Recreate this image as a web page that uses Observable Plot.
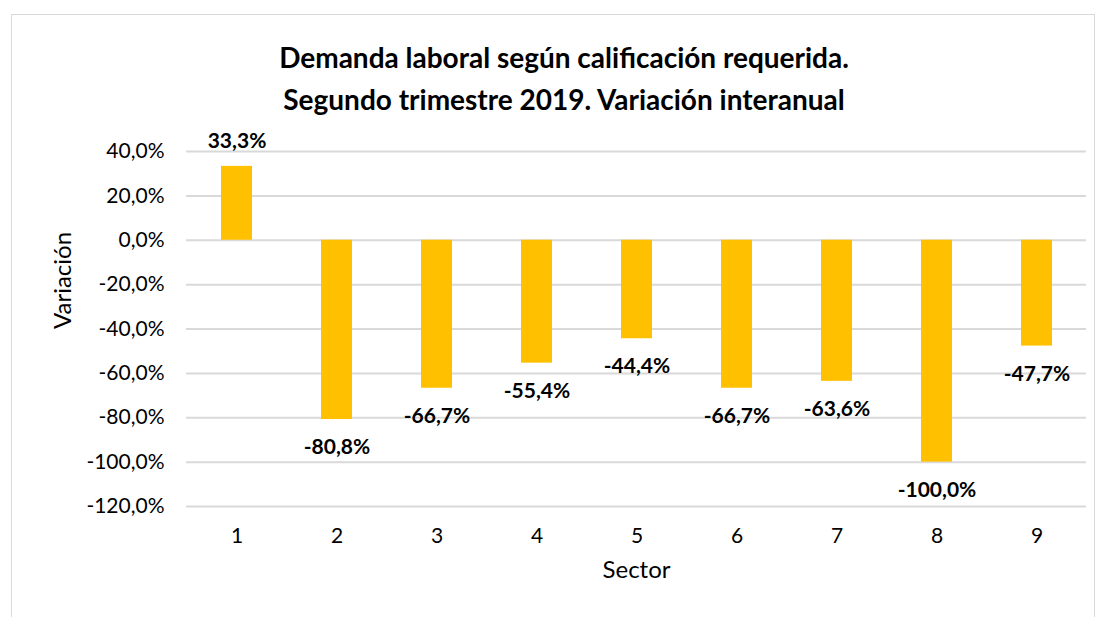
<!DOCTYPE html>
<html>
<head>
<meta charset="utf-8">
<script src="https://cdn.jsdelivr.net/npm/d3@7"></script>
<script src="https://cdn.jsdelivr.net/npm/@observablehq/plot@0.6"></script>
<style>
  html, body { margin: 0; padding: 0; background: #fff; }
  #wrap { position: relative; width: 1102px; height: 617px; overflow: hidden; font-family: Lato, sans-serif; }
  #frame { position: absolute; left: 11px; top: 14px; width: 1084px; height: 620px; border: 1px solid #d9d9d9; box-sizing: border-box; }
  #title { position: absolute; left: 0; top: 0; width: 1102px; height: 125px; }
  #title div { position: absolute; left: 0; width: 1128px; text-align: center; font-weight: bold; font-size: 28px; color: #000; }
  #chart { position: absolute; left: 0; top: 125px; }
</style>
</head>
<body>
<div id="wrap">
  <div id="frame"></div>
  <div id="title">
    <div style="top:40px">Demanda laboral según calificación requerida.</div>
    <div style="top:82px">Segundo trimestre 2019. Variación interanual</div>
  </div>
  <div id="chart"></div>
</div>
<script>
const sectors = ["1","2","3","4","5","6","7","8","9"];
const values = [33.3, -80.8, -66.7, -55.4, -44.4, -66.7, -63.6, -100.0, -47.7];
const yTicks = [40, 20, 0, -20, -40, -60, -80, -100, -120];

const loc = d3.formatLocale({decimal: ",", thousands: ".", grouping: [3], currency: ["", "€"], minus: "-"});
const fmt = loc.format(".1f");
const pct = v => fmt(v) + "%";

const data = sectors.map((s, i) => ({sector: s, value: values[i]}));

const chart = Plot.plot({
  width: 1102,
  height: 492,
  marginLeft: 186,
  marginRight: 16,
  marginTop: 26,
  marginBottom: 111,
  style: {fontFamily: "Lato, sans-serif", fontSize: "21px", color: "#000", background: "transparent"},
  x: {domain: sectors, paddingInner: 0.69, paddingOuter: 0.345, label: null},
  y: {domain: [-120, 40], label: null},
  marks: [
    Plot.gridY(yTicks, {stroke: "#d9d9d9", strokeOpacity: 1, strokeWidth: 2}),
    Plot.barY(data, {x: "sector", y: "value", fill: "#FFC000"}),
    Plot.axisY(yTicks, {tickFormat: pct, tickSize: 0, tickPadding: 22, fontSize: 21, fill: "#000"}),
    Plot.axisX(sectors, {tickSize: 0, tickPadding: 22, fontSize: 21, fill: "#000"}),
    Plot.text(data.filter(d => d.value >= 0), {x: "sector", y: "value", text: d => pct(d.value), dy: -25, fontWeight: "bold", fontSize: 21, fill: "#000"}),
    Plot.text(data.filter(d => d.value < 0), {x: "sector", y: "value", text: d => pct(d.value), dy: 28, fontWeight: "bold", fontSize: 21, fill: "#000"}),
    Plot.text(["Sector"], {frameAnchor: "bottom", dy: 71, text: d => d, fontSize: 24, fill: "#000"}),
    Plot.text(["Variación"], {frameAnchor: "left", dx: -123, rotate: -90, text: d => d, fontSize: 24, fill: "#000"})
  ]
});
document.getElementById("chart").appendChild(chart);
</script>
</body>
</html>
